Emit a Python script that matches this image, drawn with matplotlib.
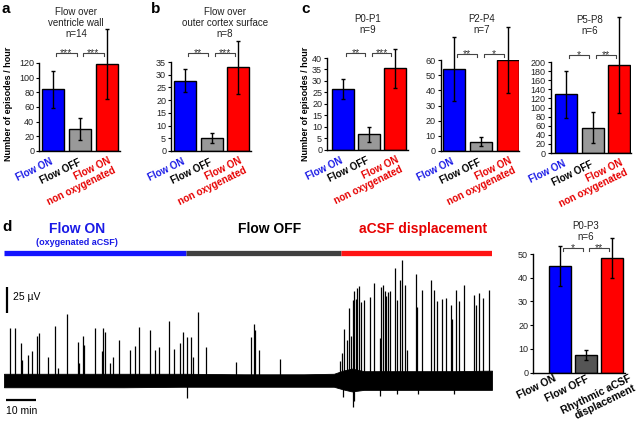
"""Recreate the multi-panel flow / episodes figure (panels a-d)."""
import matplotlib
matplotlib.use("Agg")
import matplotlib.pyplot as plt

plt.rcParams["font.family"] = ["Liberation Sans", "DejaVu Sans"]

BLUE = "#0000ff"
RED = "#ff0000"
GRAY = "#999999"
DARK = "#555555"
TXT_BLUE = "#1a1ae6"
TXT_RED = "#e60000"

W, H = 640, 432

# ---- bar chart data (episodes / hour, mean and s.e.m.) ----
a_vals = [84, 30, 119]
a_errs = [25.5, 15.5, 47.5]
b_vals = [27.7, 5.0, 33.0]
b_errs = [4.6, 2.0, 10.4]
c1_vals = [26.5, 6.6, 35.5]
c1_errs = [4.5, 3.2, 8.5]
c2_vals = [54, 6.2, 60]
c2_errs = [21, 3.2, 22]
c3_vals = [129, 56, 193]
c3_errs = [52, 35, 105]
d_vals = [45, 7.3, 48.3]
d_errs = [8.5, 2.1, 8.3]

abc_labels = ["Flow ON", "Flow OFF", "Flow ON\nnon oxygenated"]
d_labels = ["Flow ON", "Flow OFF", "Rhythmic aCSF\ndisplacement"]

a_stars = ["***", "***"]
b_stars = ["**", "***"]
c1_stars = ["**", "***"]
c2_stars = ["**", "*"]
c3_stars = ["*", "**"]
d_stars = ["*", "**"]

# ---- trace data: spike times (min) and amplitudes (uV) ----
spike_t = [2.0, 3.7, 5.7, 6.1, 8.1, 9.2, 11.1, 11.8, 14.6, 16.9, 17.9, 21.0,
           24.7, 25.0, 26.4, 26.8, 30.2, 32.6, 33.1, 33.8, 35.3, 36.2, 38.3,
           41.9, 43.7, 45.1, 48.6, 50.3, 51.6, 54.9, 56.7, 58.6, 59.6, 61.1,
           62.4, 62.9, 64.7, 67.4, 77.3, 82.4, 83.4, 83.8, 85.0, 92.0,
           112.0, 112.8, 113.3, 114.2, 114.9, 115.6, 116.4, 116.8, 117.2,
           117.8, 118.4, 119.0, 120.1, 122.1, 123.3, 125.3, 125.8, 126.3,
           127.0, 127.2, 128.1, 128.7, 130.3, 131.1, 131.9, 132.8, 133.8,
           134.2, 137.4, 137.7, 139.4, 142.2, 143.4, 144.4, 146.0, 147.3,
           149.0, 149.2, 150.7, 151.6, 153.4, 156.7, 157.2, 158.3, 159.8,
           161.7]
spike_amp = [50, 50, 36, 19, 24, 28, 42, 45, 22, 52, 12, 63,
             37, 16, 42, 34, 50, 28, 50, 46, 16, 22, 38,
             29, 33, 51, 48, 29, 32, 57, 30, 36, 46, 41,
             41, 22, 65, 32, 17, 41, 54, 48, 29, 20,
             18, 26, 49, 38, 69, 42, 77, 86, 78,
             88, 90, 75, 77, 80, 93, 40, 89, 91,
             86, 81, 85, 86, 108, 77, 96, 115, 91,
             29, 102, 70, 87, 96, 87, 76, 78, 79,
             72, 59, 87, 76, 91, 82, 72, 84, 79,
             87]
dip_t = [61.1, 113.0, 116.2, 116.6, 125.3, 131.0, 138.0, 150.0]
dip_amp = [-17, -16, -26, -20, -15, -13, -13, -13]

# noise envelope of the baseline (uV)
noise_t = [0, 20, 40, 60, 80, 100, 110, 113, 116, 120, 130, 140, 150, 162.7]
noise_hi = [6, 6, 6, 6, 5.5, 5.5, 6, 9, 11, 8.5, 8.5, 8.5, 8.5, 9]
noise_lo = [-7, -7, -7, -6.5, -6.5, -6.5, -6.5, -9, -11, -9.5, -9.5, -9.5, -9.5, -9.5]

phase_edges = [0, 60.7, 112.3, 162.7]
phase_colors = ["#1414ff", "#404040", "#ff1414"]


def px_axes(fig, left, top, right, bottom):
    return fig.add_axes([left / W, 1 - bottom / H, (right - left) / W, (bottom - top) / H])


def ftext(fig, x, y, s, **kw):
    fig.text(x / W, 1 - y / H, s, **kw)


def bar_panel(fig, box, c0, step, vals, errs, ymax, ystep, stars, labels,
              label_colors, bar_colors, brk_px, lab_dx=(-3, -2, 1),
              lab_dy=(6, 6, 5), lab_fs=7, lab_rot=26):
    left, top, right, bottom = box
    ax = px_axes(fig, left, top, right, bottom)
    pos = [0, 1, 2]
    ax.bar(pos, vals, width=22 / step, color=bar_colors, edgecolor="black",
           linewidth=1.0, zorder=2)
    ax.errorbar(pos, vals, yerr=errs, fmt="none", ecolor="black",
                elinewidth=1.0, capsize=1.3, capthick=1.0, clip_on=False, zorder=3)
    ax.set_xlim((left - c0) / step, (right - c0) / step)
    ax.set_ylim(0, ymax)
    ax.set_yticks(range(0, ymax + 1, ystep))
    ax.tick_params(axis="y", direction="out", length=2.5, width=0.8,
                   labelsize=6.5, pad=1, labelcolor="#222222")
    ax.set_xticks([])
    for side in ("top", "right"):
        ax.spines[side].set_visible(False)
    for side in ("left", "bottom"):
        ax.spines[side].set_linewidth(1.0)

    # significance brackets
    h = bottom - top
    yb = (bottom - brk_px) / h
    yt = (bottom - brk_px - 3) / h
    tr = ax.get_xaxis_transform()
    for (x0, x1), st in zip([(0.12, 0.88), (1.12, 1.88)], stars):
        ax.plot([x0, x0, x1, x1], [yt, yb, yb, yt], color="#444444", lw=0.8,
                transform=tr, clip_on=False)
        ax.text((x0 + x1) / 2, (bottom - brk_px - 3.5) / h, st, ha="center",
                va="baseline", fontsize=7.5, color="#333333", transform=tr)

    # rotated category labels
    for x, lab, col, dx, dy in zip(pos, labels, label_colors, lab_dx, lab_dy):
        ax.text(x + dx / step, -dy / h, lab, rotation=lab_rot,
                rotation_mode="anchor", ha="right", va="top",
                multialignment="right", fontsize=lab_fs, fontweight="bold",
                color=col, linespacing=1.05, transform=tr)
    return ax


def main():
    fig = plt.figure(figsize=(6.4, 4.32), dpi=100)
    cols3 = [BLUE, GRAY, RED]
    lab_cols = [TXT_BLUE, "black", TXT_RED]

    bar_panel(fig, (39, 63, 120, 151), 52.5, 27.3, a_vals, a_errs, 120, 20,
              a_stars, abc_labels, lab_cols, cols3, 53)
    bar_panel(fig, (171, 62, 251, 151), 185, 26.5, b_vals, b_errs, 35, 5,
              b_stars, abc_labels, lab_cols, cols3, 53)
    bar_panel(fig, (327, 58, 408, 149.5), 342.5, 26, c1_vals, c1_errs, 40, 5,
              c1_stars, abc_labels, lab_cols, cols3, 53)
    bar_panel(fig, (440.5, 60, 519, 151), 453.5, 27, c2_vals, c2_errs, 60, 10,
              c2_stars, abc_labels, lab_cols, cols3, 54)
    bar_panel(fig, (550.5, 62, 631, 153), 566, 26.5, c3_vals, c3_errs, 200, 20,
              c3_stars, abc_labels, lab_cols, cols3, 55)
    bar_panel(fig, (533, 254, 625, 372.7), 560, 26, d_vals, d_errs, 50, 10,
              d_stars, d_labels, ["black"] * 3, [BLUE, DARK, RED], 248,
              lab_dx=(-7, 0, 17), lab_dy=(1, 1, 1), lab_fs=7.5, lab_rot=26)

    # titles and panel letters
    tkw = dict(ha="center", va="top", fontsize=7, color="#222222", linespacing=1.15)
    ftext(fig, 76, 7, "Flow over\nventricle wall\nn=14", **tkw)
    ftext(fig, 225, 7, "Flow over\nouter cortex surface\nn=8", **tkw)
    ftext(fig, 368, 14, "P0-P1\nn=9", **tkw)
    ftext(fig, 482, 14, "P2-P4\nn=7", **tkw)
    ftext(fig, 590, 15, "P5-P8\nn=6", **tkw)
    ftext(fig, 586, 221, "P0-P3\nn=6", **tkw)
    lkw = dict(ha="left", va="top", fontsize=11, fontweight="bold")
    ftext(fig, 2, 2, "a", **lkw)
    ftext(fig, 151, 2, "b", **lkw)
    ftext(fig, 301, 2, "c", **lkw)
    ftext(fig, 2, 220, "d", **lkw)
    ykw = dict(ha="center", va="center", rotation=90, fontsize=6.5, fontweight="bold")
    ftext(fig, 9, 104, "Number of episodes / hour", **ykw)
    ftext(fig, 305, 104, "Number of episodes / hour", **ykw)

    # panel d headings
    hkw = dict(ha="center", va="center", fontsize=10, fontweight="bold")
    ftext(fig, 77, 229, "Flow ON", color=TXT_BLUE, **hkw)
    ftext(fig, 77, 242, "(oxygenated aCSF)", color=TXT_BLUE, ha="center",
          va="center", fontsize=6.5, fontweight="bold")
    ftext(fig, 270, 229, "Flow OFF", color="black", **hkw)
    ftext(fig, 423, 229, "aCSF displacement", color=TXT_RED, **hkw)

    # recording trace
    px_per_uv = 26 / 25
    top_px, bot_px, base_px = 245, 420, 380
    ax = px_axes(fig, 4, top_px, 492, bot_px)
    ax.set_xlim(0, phase_edges[-1])
    ax.set_ylim(-(bot_px - base_px) / px_per_uv, (base_px - top_px) / px_per_uv)
    ax.axis("off")
    bar_y = (base_px - 253) / px_per_uv
    for t0, t1, col in zip(phase_edges[:-1], phase_edges[1:], phase_colors):
        ax.plot([t0, t1], [bar_y, bar_y], color=col, lw=3.8, solid_capstyle="butt")
    ax.fill_between(noise_t, noise_lo, noise_hi, color="black", lw=0.6)
    ax.vlines(spike_t, 0, spike_amp, color="black", lw=0.9)
    ax.vlines(dip_t, 0, dip_amp, color="black", lw=0.9)

    # scale bars
    ax.plot([1.0, 1.0], [(base_px - 313) / px_per_uv, (base_px - 287) / px_per_uv],
            color="black", lw=1.6, solid_capstyle="butt")
    ax.text(3.0, (base_px - 297) / px_per_uv, "25 µV", fontsize=7.5,
            va="center", ha="left")
    ax.plot([0.67, 10.67], [(base_px - 400) / px_per_uv] * 2, color="black",
            lw=1.6, solid_capstyle="butt")
    ax.text(0.67, (base_px - 411) / px_per_uv, "10 min", fontsize=7.5,
            va="center", ha="left")

    fig.savefig("out.png", dpi=100)


if __name__ == "__main__":
    main()
